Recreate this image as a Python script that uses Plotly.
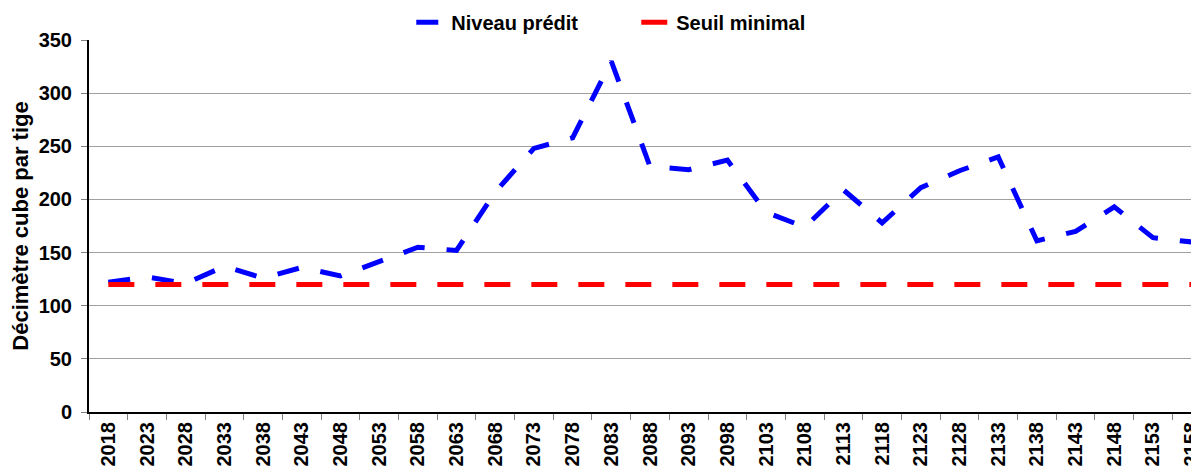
import plotly.graph_objects as go

annees = [str(a) for a in range(2018, 2159, 5)]
niveau_predit = [122, 127, 121, 137, 126, 136, 128, 141, 155, 152,
                 207, 248, 258, 330, 231, 228, 237, 188, 174, 209,
                 178, 211, 227, 240, 161, 170, 193, 164, 160]
seuil_minimal = [120] * len(annees)

police = dict(family="Liberation Sans, Arial, sans-serif", size=20, color="black", weight="bold")

fig = go.Figure()
fig.add_trace(go.Scatter(x=annees, y=niveau_predit, mode="lines", name="Niveau prédit",
                         line=dict(color="#0000FF", width=5, dash="22px,22px")))
fig.add_trace(go.Scatter(x=annees, y=seuil_minimal, mode="lines", name="Seuil minimal",
                         line=dict(color="#FF0000", width=5, dash="26px,21px")))

# la page ajoute une marge de 8 px autour de la figure
fig.update_layout(
    width=1199, height=468,
    margin=dict(l=81, r=8, t=32, b=64, autoexpand=False),
    paper_bgcolor="white", plot_bgcolor="white",
    font=police,
    showlegend=True,
    legend=dict(orientation="h", xref="container", yref="paper",
                x=0.524, xanchor="center", y=1.048, yanchor="middle",
                entrywidth=180, font=police, bgcolor="rgba(0,0,0,0)"),
)
fig.update_xaxes(type="category", range=[-0.5, 28.19], tickson="boundaries",
                 tickangle=-90, ticks="outside", ticklen=6, tickcolor="#808080",
                 showline=True, linecolor="black", linewidth=2, automargin=False,
                 showgrid=False, tickfont=police)
fig.update_yaxes(range=[0, 350], dtick=50, ticks="outside", ticklen=6, tickcolor="#808080",
                 showline=True, linecolor="black", linewidth=2, automargin=False,
                 showgrid=True, gridcolor="#a0a0a0", gridwidth=1, zeroline=False,
                 tickfont=police, ticklabelstandoff=5,
                 title=dict(text="Décimètre cube par tige", font=dict(police, size=22), standoff=12))

fig.write_html("out.html")
